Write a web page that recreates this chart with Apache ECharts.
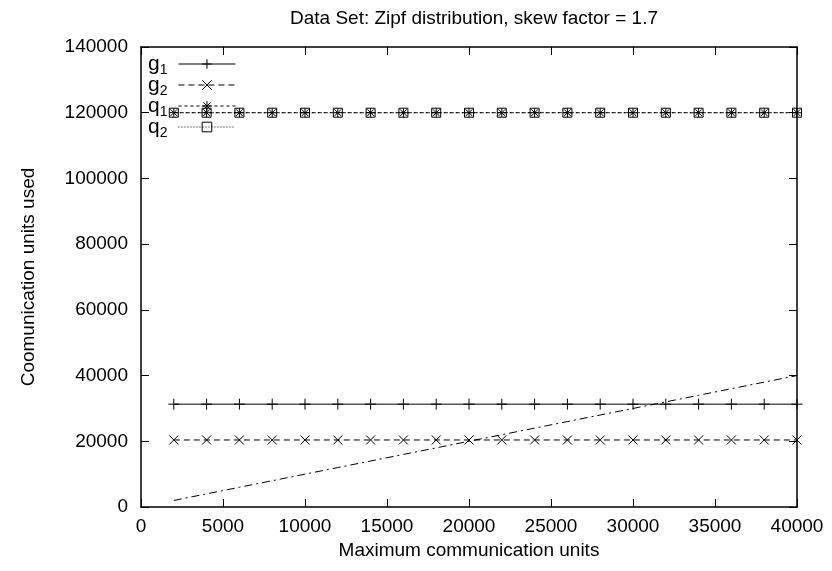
<!DOCTYPE html>
<html>
<head>
<meta charset="utf-8">
<script src="https://cdn.jsdelivr.net/npm/echarts@6/dist/echarts.min.js"></script>
<style>html,body{margin:0;padding:0;background:#fff}#c{width:832px;height:571px}</style>
</head>
<body>
<div id="c"></div>
<script>
var xValues = [2000,4000,6000,8000,10000,12000,14000,16000,18000,20000,22000,24000,26000,28000,30000,32000,34000,36000,38000,40000];
var g1Values = [31300,31300,31300,31300,31300,31300,31300,31300,31300,31300,31300,31300,31300,31300,31300,31300,31300,31300,31300,31300];
var g2Values = [20400,20400,20400,20400,20400,20400,20400,20400,20400,20400,20400,20400,20400,20400,20400,20400,20400,20400,20400,20400];
var q1Values = [120000,120000,120000,120000,120000,120000,120000,120000,120000,120000,120000,120000,120000,120000,120000,120000,120000,120000,120000,120000];
var q2Values = [120000,120000,120000,120000,120000,120000,120000,120000,120000,120000,120000,120000,120000,120000,120000,120000,120000,120000,120000,120000];
var limitValues = [2000,4000,6000,8000,10000,12000,14000,16000,18000,20000,22000,24000,26000,28000,30000,32000,34000,36000,38000,40000];
var seriesNames = ['g1','g2','q1','q2'];

function pairs(ys){ return xValues.map(function(x,i){ return [x, ys[i]]; }); }

var FONT = 'Liberation Sans, Arial, sans-serif';
var plusPath = 'path://M0,5L10,5M5,0L5,10';
var crossPath = 'path://M0,0L10,10M10,0L0,10';
var starPath = 'path://M0,5L10,5M5,0L5,10M1.2,1.2L8.8,8.8M8.8,1.2L1.2,8.8';
var squarePath = 'path://M0,0L10,0L10,10L0,10Z';

function mk(name, data, sym, size, lineType){
  return {
    name: name, type: 'line', data: pairs(data),
    symbol: sym, symbolSize: size, showAllSymbol: true,
    itemStyle: {color: 'none', borderColor: '#000', borderWidth: 1},
    lineStyle: {color: '#000', width: 1, type: lineType},
    emphasis: {disabled: true}, animation: false
  };
}

var chart = echarts.init(document.getElementById('c'), null, {renderer: 'canvas'});
var ax = {
  axisLine: {show: true, onZero: false, lineStyle: {color: '#000', width: 1.5}},
  axisTick: {show: true, inside: true, length: 8, lineStyle: {color: '#000', width: 1}},
  splitLine: {show: false}
};
function plain(v){ return String(v); }
chart.setOption({
  animation: false,
  backgroundColor: '#fff',
  title: {
    text: 'Data Set: Zipf distribution, skew factor = 1.7',
    left: 469, textAlign: 'center', top: 4,
    textStyle: {fontFamily: FONT, fontSize: 19, fontWeight: 'normal', color: '#000'}
  },
  grid: {left: 141, right: 35, top: 47, bottom: 64, containLabel: false},
  legend: {
    data: seriesNames,
    orient: 'vertical', left: 143, top: 49, align: 'right',
    itemWidth: 57, itemHeight: 12, itemGap: -2,
    selectedMode: false,
    lineStyle: {width: 1},
    itemStyle: {borderWidth: 1},
    formatter: function(n){ return '{m|' + n.charAt(0) + '}{s|' + n.charAt(1) + '}{p|}'; },
    textStyle: {
      fontFamily: FONT, color: '#000',
      rich: {
        m: {fontFamily: FONT, fontSize: 21, lineHeight: 20, verticalAlign: 'top', color: '#000'},
        s: {fontFamily: FONT, fontSize: 14, lineHeight: 14, verticalAlign: 'top', padding: [9,0,0,0], color: '#000'},
        p: {width: 6}
      }
    }
  },
  xAxis: [
    Object.assign({}, ax, {
      type: 'value', min: 0, max: 40000, interval: 5000, position: 'bottom',
      name: 'Maximum communication units', nameLocation: 'middle', nameGap: 33,
      nameTextStyle: {fontFamily: FONT, fontSize: 19, color: '#000'},
      axisLabel: {fontFamily: FONT, fontSize: 19, color: '#000', margin: 10, formatter: plain}
    }),
    Object.assign({}, ax, {
      type: 'value', min: 0, max: 40000, interval: 5000, position: 'top',
      axisLabel: {show: false}
    })
  ],
  yAxis: [
    Object.assign({}, ax, {
      type: 'value', min: 0, max: 140000, interval: 20000, position: 'left',
      name: 'Coomunication units used', nameLocation: 'middle', nameGap: 103,
      nameTextStyle: {fontFamily: FONT, fontSize: 19, color: '#000'},
      axisLabel: {fontFamily: FONT, fontSize: 19, color: '#000', margin: 13, formatter: plain}
    }),
    Object.assign({}, ax, {
      type: 'value', min: 0, max: 140000, interval: 20000, position: 'right',
      axisLabel: {show: false}
    })
  ],
  series: [
    mk('g1', g1Values, plusPath, 11, 'solid'),
    mk('g2', g2Values, crossPath, 9, [6,4]),
    mk('q1', q1Values, starPath, 9, [3,3]),
    mk('q2', q2Values, squarePath, 9, [1,2]),
    {
      name: 'limit', type: 'line', data: pairs(limitValues), symbol: 'none',
      lineStyle: {color: '#000', width: 1, type: [8,4,2,4]},
      emphasis: {disabled: true}, animation: false
    }
  ]
});
</script>
</body>
</html>
